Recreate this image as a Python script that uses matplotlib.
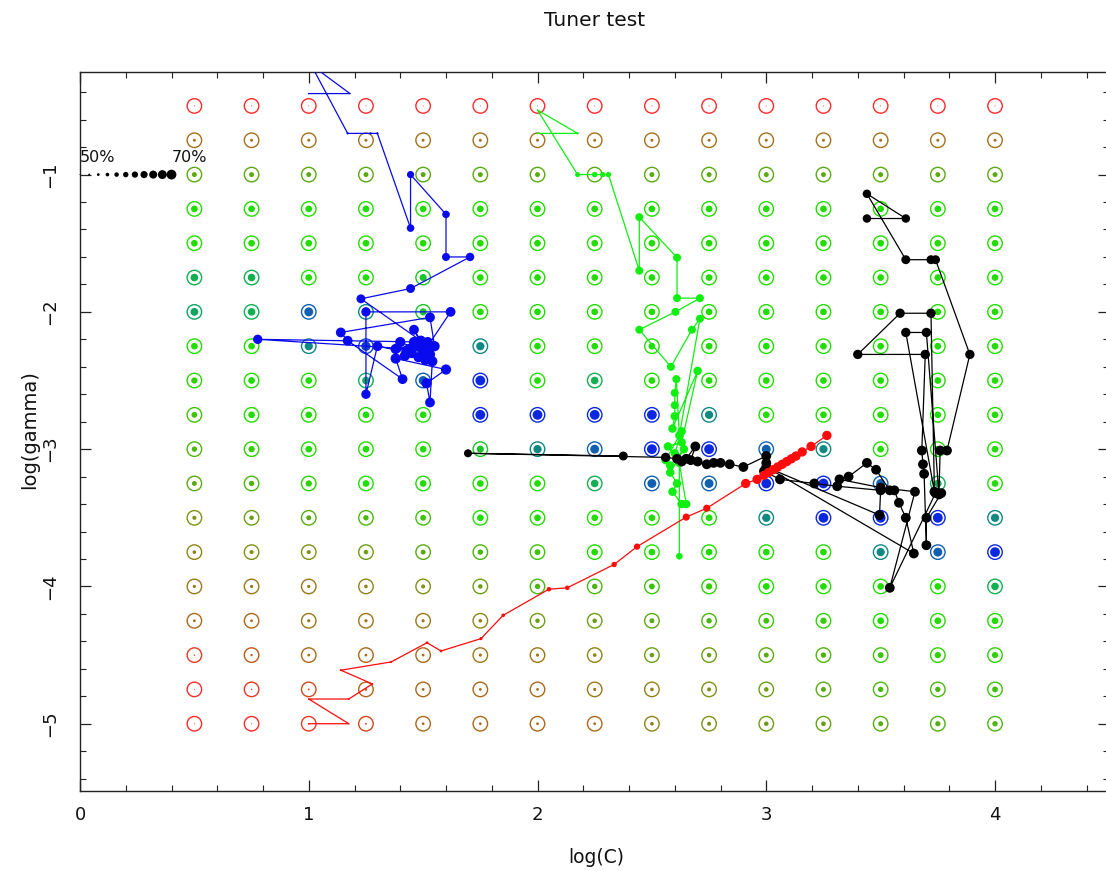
import numpy as np
import matplotlib
matplotlib.use('Agg')
import matplotlib.pyplot as plt
from matplotlib.colors import LinearSegmentedColormap
from matplotlib.ticker import MultipleLocator

# ---------------- data ----------------
grid_logC = [0.5, 0.75, 1.0, 1.25, 1.5, 1.75, 2.0, 2.25, 2.5, 2.75, 3.0, 3.25, 3.5, 3.75, 4.0]
grid_loggamma = [-0.5, -0.75, -1.0, -1.25, -1.5, -1.75, -2.0, -2.25, -2.5, -2.75,
                 -3.0, -3.25, -3.5, -3.75, -4.0, -4.25, -4.5, -4.75, -5.0]
# accuracy (%) per grid cell, rows follow grid_loggamma, columns follow grid_logC
grid_acc = [
    [50]*15,
    [54.5]*15,
    [59]*15,
    [63]*15,
    [63]*15,
    [65, 65, 63, 63, 64, 63, 63, 63, 63, 63, 63, 63, 63, 63, 63],
    [65.5, 65, 68, 66.5, 64, 63, 63, 63, 63, 63, 63, 63, 63, 63, 63],
    [63, 63, 66.5, 69, 68, 66.5, 63, 63, 63, 63, 63, 63, 63, 63, 63],
    [62, 63, 63, 65, 68, 70, 63, 65, 63, 63, 63, 63, 63, 63, 63],
    [61, 63, 63, 63, 63, 70, 70, 70, 70, 66.5, 63, 63, 63, 63, 63],
    [60, 62, 63, 63, 63, 64, 66.5, 68, 70, 70, 68, 66.5, 63, 63, 63],
    [59, 60, 62, 63, 63, 63, 63, 65, 68, 68, 70, 70, 68, 65, 63],
    [57, 58, 59, 60, 61, 63, 63, 63, 63, 63, 66.5, 70, 70, 70, 66.5],
    [56, 57, 57, 58, 59, 60, 61, 63, 63, 63, 63, 63, 66.5, 68, 70],
    [55, 55, 55, 56, 57, 58, 60, 60, 61, 62, 63, 63, 63, 63, 65],
    [54, 54, 55, 55, 55, 56, 58, 58, 59, 60, 61, 62, 63, 63, 63],
    [51, 53, 54, 54, 54, 55, 55, 56, 58, 58, 59, 60, 61, 62, 62],
    [50, 51, 52, 54, 54, 54, 54, 55, 56, 57, 58, 59, 60, 60, 61],
    [50, 50, 51, 52, 54, 54, 54, 54, 56, 57, 58, 58.5, 59, 59.5, 60],
]

red_x = [1.0, 1.175, 1.0, 1.175, 1.278, 1.14, 1.36, 1.517, 1.578, 1.753, 1.85, 2.05, 2.13, 2.335, 2.435,
         2.65, 2.74, 2.91, 2.96, 2.99, 3.01, 3.03, 3.05, 3.07, 3.09, 3.11, 3.13, 3.157, 3.196, 3.265]
red_y = [-5.0, -5.0, -4.82, -4.82, -4.71, -4.61, -4.55, -4.41, -4.47, -4.38, -4.21, -4.02, -4.01, -3.84, -3.71,
         -3.495, -3.43, -3.25, -3.22, -3.19, -3.17, -3.15, -3.13, -3.11, -3.09, -3.07, -3.05, -3.02, -2.98, -2.90]
red_acc = [51, 51, 51.5, 52, 52, 52.5, 53, 54, 54, 55, 56, 58, 58, 60, 62,
           64, 64, 69, 69, 69, 69, 69, 69, 69, 69, 69, 69, 69, 69, 69]

green_x = [2.0, 2.175, 2.0, 2.175, 2.25, 2.285, 2.31, 2.445, 2.445, 2.61, 2.61, 2.71, 2.603, 2.445,
           2.583, 2.675, 2.71, 2.62, 2.607, 2.60, 2.60, 2.60, 2.59, 2.70, 2.63, 2.57, 2.60, 2.63,
           2.56, 2.58, 2.64, 2.58, 2.61, 2.59, 2.63, 2.65, 2.62, 2.62]
green_y = [-0.70, -0.70, -0.53, -1.0, -1.0, -1.0, -1.0, -1.70, -1.31, -1.605, -1.90, -1.90, -2.0, -2.13,
           -2.40, -2.13, -2.05, -2.90, -2.49, -2.59, -2.68, -2.76, -2.85, -2.43, -2.95, -2.98, -3.03, -2.87,
           -3.08, -3.12, -3.0, -3.17, -3.25, -3.31, -3.40, -3.40, -3.10, -3.78]
green_acc = [52, 53, 51, 59, 60, 60, 60, 66, 66, 66, 66, 66, 66, 66,
             66, 66, 66, 67, 66, 66, 66, 67, 67, 67, 67, 67, 67, 67,
             67, 67, 67, 67, 67, 67, 67, 67, 67, 63]

black_x = [2.375, 1.696, 2.56, 2.61, 2.63, 2.65, 2.69, 2.67, 2.70, 2.74, 2.77, 2.80, 2.84, 2.90, 3.00, 3.00,
           2.99, 3.06, 3.21, 3.31, 3.50, 3.495, 3.00, 3.645, 3.61, 3.58, 3.56, 3.54, 3.48, 3.44, 3.36, 3.32,
           3.50, 3.65, 3.54, 3.74, 3.765, 3.70, 3.70, 3.69, 3.685, 3.68, 3.695, 3.40, 3.585, 3.72, 3.735,
           3.61, 3.70, 3.755, 3.76, 3.79, 3.89, 3.74, 3.72, 3.61, 3.44, 3.61, 3.44]
black_y = [-3.05, -3.03, -3.06, -3.07, -3.09, -3.07, -2.98, -3.08, -3.09, -3.11, -3.10, -3.10, -3.11, -3.13, -3.05, -3.10,
           -3.16, -3.22, -3.25, -3.27, -3.30, -3.48, -3.13, -3.76, -3.50, -3.39, -3.30, -3.30, -3.15, -3.10, -3.20, -3.22,
           -3.28, -3.31, -4.01, -3.32, -3.32, -3.50, -3.70, -3.18, -3.11, -3.01, -2.31, -2.31, -2.01, -2.01, -3.31,
           -2.15, -2.15, -3.33, -3.01, -3.01, -2.31, -1.62, -1.62, -1.62, -1.14, -1.32, -1.32]
black_acc = [68, 66, 69, 70, 70, 70, 70, 70, 70, 70, 70, 70, 70, 70, 70, 70,
             70, 70, 70, 70, 70, 70, 70, 70, 70, 70, 70, 70, 70, 70, 70, 70,
             70, 70, 70, 70, 70, 70, 70, 70, 70, 70, 69, 69, 69, 69, 70,
             69, 69, 70, 70, 70, 69, 68, 68, 68, 67, 67, 67]

blue_x = [1.0, 1.18, 1.01, 1.17, 1.27, 1.30, 1.445, 1.445, 1.60, 1.60, 1.705, 1.445, 1.228, 1.49, 1.46,
          1.50, 1.44, 0.777, 1.52, 1.55, 1.53, 1.14, 1.17, 1.41, 1.38, 1.60, 1.515, 1.53, 1.54, 1.45, 1.30,
          1.25, 1.25, 1.62, 1.50, 1.42, 1.48, 1.52, 1.38, 1.47, 1.43, 1.51, 1.46, 1.53, 1.40]
blue_y = [-0.41, -0.41, -0.20, -0.70, -0.70, -0.70, -1.39, -1.0, -1.29, -1.60, -1.60, -1.83, -1.905, -2.21, -2.13,
          -2.26, -2.27, -2.20, -2.22, -2.25, -2.04, -2.15, -2.21, -2.49, -2.34, -2.42, -2.52, -2.66, -2.36, -2.30, -2.25,
          -2.60, -2.00, -2.00, -2.30, -2.32, -2.33, -2.29, -2.27, -2.24, -2.28, -2.35, -2.22, -2.31, -2.22]
blue_acc = [51, 51, 50, 53, 53, 53, 65, 64, 65, 66, 67, 68, 68, 71, 70,
            71, 71, 69, 71, 71, 70, 70, 70, 70, 71, 71, 71, 70, 71, 71, 70,
            69, 69, 70, 71, 71, 71, 71, 71, 71, 71, 71, 71, 71, 71]

legend_acc = [50, 52, 54, 56, 58, 60, 62, 64, 66, 68, 70]
legend_labels = ["50%", "70%"]

title = "Tuner test"
xlabel = "log(C)"
ylabel = "log(gamma)"

# ---------------- styling helpers ----------------
anchors = [(50, '#ff2a2a'), (52, '#cf4a1c'), (54.5, '#a3701a'), (57, '#809018'), (59, '#5aaa12'),
           (63, '#22dd00'), (65, '#10b050'), (66.5, '#108a80'), (68, '#1060b0'), (70, '#0a28e0')]
cmap = LinearSegmentedColormap.from_list(
    'acc', [((a - 50) / 20.0, c) for a, c in anchors])


def acc_color(a):
    return cmap(np.clip((np.asarray(a, float) - 50) / 20.0, 0, 1))


PX = 72.0 / 100.0  # points per pixel


def acc_size(a):
    d_px = 1.0 + (np.asarray(a, float) - 50) * 0.44
    return (d_px * PX) ** 2


# ---------------- figure ----------------
W, H = 1106, 871
fig = plt.figure(figsize=(W / 100, H / 100), dpi=100)
ax_l, ax_r, ax_t, ax_b = 80, 1109.4, 72.3, 791
ax = fig.add_axes([ax_l / W, (H - ax_b) / H, (ax_r - ax_l) / W, (ax_b - ax_t) / H])
ax.set_xlim(0, 4.5)
ax.set_ylim(-5.49, -0.255)

gx, gy = np.meshgrid(grid_logC, grid_loggamma)
gacc = np.array(grid_acc, float)
cols = acc_color(gacc.ravel())
ax.scatter(gx.ravel(), gy.ravel(), s=(14.5 * PX) ** 2, facecolors='none',
           edgecolors=cols, linewidths=1.0, zorder=2)
ax.scatter(gx.ravel(), gy.ravel(), s=acc_size(gacc.ravel()), c=cols,
           linewidths=0, zorder=2)

for xs, ys, accs, col in [(blue_x, blue_y, blue_acc, '#0a0aee'),
                          (green_x, green_y, green_acc, '#11ee11'),
                          (black_x, black_y, black_acc, '#000000'),
                          (red_x, red_y, red_acc, '#ff0b0b')]:
    ax.plot(xs, ys, color=col, lw=0.9, zorder=3)
    ax.scatter(xs, ys, s=acc_size(accs), color=col, linewidths=0, zorder=4)

# accuracy size key
leg_x = np.arange(len(legend_acc)) * 0.04
ax.scatter(leg_x, [-1.0] * len(legend_acc), s=acc_size(legend_acc), color='k',
           linewidths=0, zorder=4, clip_on=False)
ax.text(leg_x[0], -0.93, legend_labels[0], fontsize=11.5, ha='left', va='bottom', color='#111')
ax.text(leg_x[-1], -0.93, legend_labels[1], fontsize=11.5, ha='left', va='bottom', color='#111')

# ticks
ax.xaxis.set_major_locator(MultipleLocator(1))
ax.xaxis.set_minor_locator(MultipleLocator(0.2))
ax.yaxis.set_major_locator(MultipleLocator(1))
ax.yaxis.set_minor_locator(MultipleLocator(0.2))
ax.tick_params(which='both', direction='in', top=True, right=True, color='#222')
ax.tick_params(which='major', length=8, width=0.9)
ax.tick_params(which='minor', length=4.3, width=0.8)
ax.tick_params(axis='x', which='major', labelsize=13, pad=11, labelcolor='#111')
ax.tick_params(axis='y', which='major', labelsize=13, pad=15, labelcolor='#111')
for lab in ax.get_yticklabels():
    lab.set_rotation(90)
    lab.set_va('center')
for sp in ax.spines.values():
    sp.set_linewidth(1.0)
    sp.set_color('#222')

fig.text(594.7 / W, 1 - 21 / H, title, fontsize=14.5, ha='center', va='center', color='#111')
fig.text(596 / W, 1 - 857 / H, xlabel, fontsize=13.5, ha='center', va='center', color='#111')
fig.text(30 / W, 1 - 430 / H, ylabel, fontsize=14, ha='center', va='center', rotation=90, color='#111')

fig.savefig('out.png', dpi=100)
